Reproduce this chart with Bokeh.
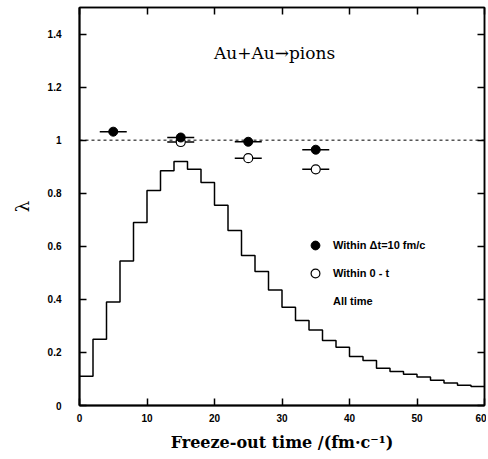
from bokeh.plotting import figure
from bokeh.models import (LinearAxis, FixedTicker, Span, Label, Legend, LegendItem,
                          NumeralTickFormatter, CustomJSTickFormatter, Range1d)
from bokeh.embed import file_html
from bokeh.resources import INLINE

# ---- data ----
bin_edges = [0, 2, 4, 6, 8, 10, 12, 14, 16, 18, 20, 22, 24, 26, 28, 30,
             32, 34, 36, 38, 40, 42, 44, 46, 48, 50, 52, 54, 56, 58, 60]
all_time = [0.11, 0.25, 0.39, 0.545, 0.69, 0.81, 0.885, 0.92, 0.89, 0.84,
            0.755, 0.66, 0.565, 0.505, 0.435, 0.37, 0.32, 0.285, 0.245, 0.22,
            0.185, 0.17, 0.14, 0.128, 0.118, 0.107, 0.095, 0.085, 0.076, 0.072]

dt_x = [5, 15, 25, 35]
dt_lambda = [1.032, 1.01, 0.994, 0.964]
cum_x = [15, 25, 35]
cum_lambda = [0.993, 0.932, 0.89]
x_err = 2.0

x_ticks = [0, 10, 20, 30, 40, 50, 60]
y_ticks = [0, 0.2, 0.4, 0.6, 0.8, 1.0, 1.2, 1.4]
reference_level = 1.0

title_text = "Au+Au\u2192pions"
x_label = "Freeze-out time /(fm\u00b7c\u207b\u00b9)"
y_label = "\u03bb"
legend_labels = ["Within \u0394t=10 fm/c", "Within 0 - t", "All time"]

# ---- figure ----
p = figure(width=486, height=457, x_range=Range1d(0, 60), y_range=Range1d(0, 1.5),
           output_backend="svg", toolbar_location=None,
           min_border_left=79, min_border_right=2, min_border_top=7, min_border_bottom=52)
p.xgrid.visible = False
p.ygrid.visible = False
p.outline_line_color = "black"
p.outline_line_width = 1.5
p.background_fill_color = "white"
p.border_fill_color = "white"

def style_axis(ax):
    ax.axis_line_color = "black"
    ax.axis_line_width = 2
    ax.major_tick_line_color = "black"
    ax.major_tick_line_width = 1.5
    ax.major_tick_in = 7
    ax.major_tick_out = 0
    ax.minor_tick_line_color = None
    ax.major_label_text_font = "Liberation Sans"
    ax.major_label_text_font_style = "bold"
    ax.major_label_text_font_size = "10px"
    ax.major_label_text_color = "black"

xa = p.xaxis[0]
xa.ticker = FixedTicker(ticks=x_ticks)
style_axis(xa)
xa.major_label_standoff = 8
xa.axis_label = x_label
xa.axis_label_text_font = "DejaVu Serif"
xa.axis_label_text_font_style = "bold"
xa.axis_label_text_font_size = "16px"
xa.axis_label_text_color = "black"
xa.axis_label_standoff = 8

ya = p.yaxis[0]
ya.ticker = FixedTicker(ticks=y_ticks)
ya.formatter = NumeralTickFormatter(format="0.[0]")
style_axis(ya)
ya.major_label_standoff = 18
ya.axis_label = y_label
ya.axis_label_text_font = "DejaVu Serif"
ya.axis_label_text_font_style = "normal"
ya.axis_label_text_font_size = "18px"
ya.axis_label_text_color = "black"
ya.axis_label_standoff = 12

blank = CustomJSTickFormatter(code="return '';")
top = LinearAxis(ticker=FixedTicker(ticks=x_ticks), formatter=blank)
style_axis(top)
top.axis_line_width = 1.5
p.add_layout(top, "above")
right = LinearAxis(ticker=FixedTicker(ticks=y_ticks), formatter=blank)
style_axis(right)
right.axis_line_width = 1.5
p.add_layout(right, "right")

# reference line
p.add_layout(Span(location=reference_level, dimension="width", line_color="black",
                  line_width=1, line_dash="3 3"))

# histogram (step)
step_x = bin_edges
step_y = all_time + [all_time[-1]]
hist_r = p.step(x=step_x, y=step_y, mode="after", line_color="black", line_width=1.5)

# error bars
p.segment(x0=[v - x_err for v in dt_x], y0=dt_lambda,
          x1=[v + x_err for v in dt_x], y1=dt_lambda, line_color="black", line_width=1.5)
p.segment(x0=[v - x_err for v in cum_x], y0=cum_lambda,
          x1=[v + x_err for v in cum_x], y1=cum_lambda, line_color="black", line_width=1.5)

open_r = p.scatter(x=cum_x, y=cum_lambda, marker="circle", size=9,
                   fill_color="white", line_color="black", line_width=1.2)
filled_r = p.scatter(x=dt_x, y=dt_lambda, marker="circle", size=9,
                     fill_color="black", line_color="black")
dummy_r = p.line(x=[], y=[], line_alpha=0)

p.add_layout(Label(x=28.9, y=1.33, text=title_text, text_align="center",
                   text_baseline="middle", text_font="DejaVu Serif",
                   text_font_size="17px", text_color="black"))

legend = Legend(items=[LegendItem(label=legend_labels[0], renderers=[filled_r]),
                       LegendItem(label=legend_labels[1], renderers=[open_r]),
                       LegendItem(label=legend_labels[2], renderers=[dummy_r])],
                location=(225, 93), border_line_alpha=0, background_fill_alpha=0,
                label_text_font="Liberation Sans", label_text_font_style="bold",
                label_text_font_size="11px", label_text_color="black",
                glyph_width=22, glyph_height=22,
                label_height=22, spacing=6, padding=0, margin=0, label_standoff=7)
p.add_layout(legend)

open("out.html", "w").write(file_html(p, INLINE))
